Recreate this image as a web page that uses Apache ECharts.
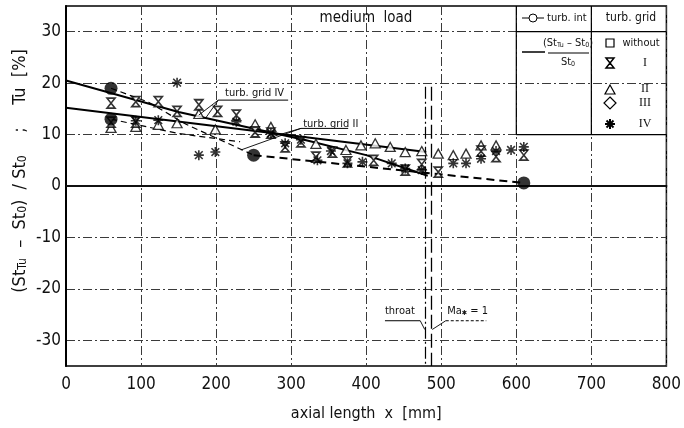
<!DOCTYPE html>
<html><head><meta charset="utf-8">
<script src="https://cdn.jsdelivr.net/npm/echarts@6/dist/echarts.min.js"></script>
<style>html,body{margin:0;padding:0;background:#fff}#c{width:684px;height:428px}</style>
</head><body><div id="c"></div>
<script>
// ---- data ----
const xMin = 0, xMax = 800, xStep = 100;
const yMin = -35, yMax = 35, yStep = 5, yLabelStep = 10;

// solid lines: (St_Tu - St_0)/St_0
const stLineGridIV = [[0,20.5],[150,14.4],[320,8.9],[400,6.0],[482,2.0]];
const stLineGridII = [[0,15.2],[480,6.6]];

// dashed lines: turbulence intensity
const tuDashUpper = [[60,19],[110,16.3],[160,12],[235,7],[250,6]];
const tuDashLower = [[60,13],[150,10.2],[232,8.6]];
const tuDashMain  = [[250,6],[490,2.4],[610,0.6]];
const tuPoints    = [[60,19],[60,13],[250,6],[610,0.6]];

// grid I (hourglass)
const gridI = [[60,16.1],[93,16.4],[123,16.4],[148,14.5],[177,15.8],[202,14.5],[227,13.8],[252,10.5],[273,10.3],[292,7.6],[313,8.6],[333,5.6],[355,6.6],[375,4.7],[410,5.0],[452,3.1],[474,4.2],[496,2.7],[553,6.8],[573,5.7],[610,6.0],[60,12.4],[93,12.4]];
// grid II (triangle)
const gridII = [[60,11.3],[93,11.5],[123,11.9],[148,12.2],[177,14.0],[199,11.0],[252,12.0],[273,11.5],[333,8.2],[373,7.0],[393,7.9],[412,8.3],[432,7.6],[452,6.6],[474,6.8],[496,6.3],[516,6.0],[533,6.3],[553,7.9],[573,7.9]];
// grid IV (asterisk)
const gridIV = [[93,12.7],[123,12.8],[148,20.1],[177,6.0],[199,6.6],[227,12.5],[273,10.2],[292,8.3],[313,9.0],[335,5.0],[353,6.8],[375,4.4],[395,4.7],[434,4.4],[452,3.4],[474,3.1],[516,4.4],[533,4.4],[553,5.3],[573,6.8],[593,7.0],[610,7.6]];

const throatLine = [[479,19.3],[479,-35]];
const maLine = [[487,19.3],[487,-35]];

// ---- styling ----
const FONT = "'Liberation Sans Narrow','DejaVu Sans Condensed','Roboto Condensed','Liberation Sans',sans-serif";
const SERIF = "'Liberation Serif','DejaVu Serif',serif";
const HOURGLASS = 'path://M0,0 L10,0 L5,5 L10,10 L0,10 L5,5 Z';
const ASTER = 'path://M4.2,0 L5.8,0 L5.8,10 L4.2,10 Z M0,4.2 L10,4.2 L10,5.8 L0,5.8 Z M0.6,1.7 L1.7,0.6 L9.4,8.3 L8.3,9.4 Z M8.3,0.6 L9.4,1.7 L1.7,9.4 L0.6,8.3 Z M3,3 L7,3 L7,7 L3,7 Z';
const GL = '#3a3a3a', NONE = 'rgba(0,0,0,0)';

const chart = echarts.init(document.getElementById('c'), null, {renderer:'canvas'});

function lineSeries(data, type, width){
  return {type:'line', data, symbol:'none', silent:true, z:3,
    lineStyle:{color:'#000', width, type}};
}

chart.setOption({
  animation:false,
  backgroundColor:'#fff',
  grid:{left:66, right:12, top:6, bottom:62, show:true, borderColor:'#000', borderWidth:1.5},
  xAxis:{type:'value', min:xMin, max:xMax, interval:xStep,
    axisLine:{show:true, lineStyle:{color:'#000', width:2}}, axisTick:{show:false},
    axisLabel:{color:'#111', fontFamily:FONT, fontSize:17, margin:10},
    splitLine:{show:true, lineStyle:{color:GL, width:1, type:[9,3,2,3]}},
    name:'axial length  x  [mm]', nameLocation:'middle', nameGap:40,
    nameTextStyle:{color:'#111', fontFamily:FONT, fontSize:16}},
  yAxis:{type:'value', min:yMin, max:yMax, interval:yStep,
    axisLine:{show:true, lineStyle:{color:'#000', width:2}}, axisTick:{show:false},
    axisLabel:{color:'#111', fontFamily:FONT, fontSize:17, margin:5,
      formatter:v => (Math.abs(v) % yLabelStep === 0 && Math.abs(v) < yMax) ? String(v) : ''},
    splitLine:{show:true, lineStyle:{color:[NONE, GL], width:1, type:[9,3,2,3]}}},
  series:[
    lineSeries(stLineGridIV,'solid',2),
    lineSeries(stLineGridII,'solid',2),
    lineSeries(tuDashUpper,[6,4],1.2),
    lineSeries(tuDashLower,[6,4],1.2),
    lineSeries(tuDashMain,[8,5],2),
    lineSeries(throatLine,[12,3,2,3],1.2),
    lineSeries(maLine,[14,5],1.3),
    {type:'line', data:[[0,0],[800,0]], symbol:'none', silent:true, z:2, lineStyle:{color:'#222', width:1}},
    {type:'scatter', data:gridII, symbol:'triangle', symbolSize:[10,9], z:5,
      itemStyle:{color:'#fff', borderColor:'#000', borderWidth:1.3}},
    {type:'scatter', data:gridI, symbol:HOURGLASS, symbolSize:[8,10], z:6,
      itemStyle:{color:'#fff', borderColor:'#000', borderWidth:1.6}},
    {type:'scatter', data:gridIV, symbol:ASTER, symbolSize:[10,10], z:7,
      itemStyle:{color:'#000'}},
    {type:'scatter', data:tuPoints, symbol:'circle', symbolSize:13, z:8,
      itemStyle:{color:'#000'}}
  ]
});

// ---- annotations (graphics) ----
const P = (x,y) => chart.convertToPixel({gridIndex:0},[x,y]);
const L = (x1,y1,x2,y2,w,dash) => ({type:'line', shape:{x1,y1,x2,y2}, style:{stroke:'#000', lineWidth:w||1, lineDash:dash||null}, z:20});
const T = (x,y,text,opt) => ({type:'text', x, y, z:21, style:Object.assign({text, fill:'#111', font:'13px '+FONT, align:'center', verticalAlign:'middle'}, opt||{})});
const g = [];

// y axis title (rotated, three parts)
const yt = (y, text) => ({type:'text', x:20, y, rotation:Math.PI/2, z:21, style:{
  text, fill:'#111', font:'18px '+FONT, align:'center', verticalAlign:'middle',
  rich:{s:{fontSize:12, fontFamily:FONT, verticalAlign:'bottom', lineHeight:10, fill:'#111'}}
}});
g.push(yt(224,'(St{s|Tu}  –  St{s|0})  / St{s|0}'));
g.push(yt(130,';'));
g.push(yt(77,'Tu  [%]'));

// medium load
g.push(T(366,18,'medium  load',{font:'15px '+FONT}));

// legend table
const a = P(600,35), b = P(700,10), c = P(800,30);
g.push(L(a[0],a[1],a[0],b[1],1.2));
g.push(L(b[0],a[1],b[0],b[1],1.2));
g.push(L(a[0],c[1],c[0],c[1],1.2));
g.push(L(a[0],b[1],c[0],b[1],1.2));
// row 1
g.push(L(522,18,529,18,1)); g.push(L(537,18,544,18,1));
g.push({type:'circle', shape:{cx:533, cy:18, r:4}, style:{fill:'#fff', stroke:'#000', lineWidth:1}, z:21});
g.push(T(547,18,'turb. int',{align:'left', font:'11px '+FONT}));
g.push(T(631,18,'turb. grid',{font:'12px '+FONT}));
// row 2 (St fraction)
g.push(L(522,52,545,52,1.5));
const sub = {s:{fontSize:7, fontFamily:FONT, verticalAlign:'bottom', lineHeight:6}};
g.push(T(568,43,'(St{s|Tu} – St{s|0})',{font:'11px '+FONT, rich:sub}));
g.push(L(548,53,589,53,1.2));
g.push(T(568,62,'St{s|0}',{font:'11px '+FONT, rich:sub}));
// symbol column
g.push({type:'rect', shape:{x:606, y:39, width:8, height:8}, style:{fill:'#fff', stroke:'#000', lineWidth:1.2}, z:21});
g.push({type:'polygon', shape:{points:[[606,58],[614,58],[610,63],[614,68],[606,68],[610,63]]}, style:{fill:'#fff', stroke:'#000', lineWidth:1.5}, z:21});
g.push({type:'polygon', shape:{points:[[610,85],[615,94],[605,94]]}, style:{fill:'#fff', stroke:'#000', lineWidth:1.2}, z:21});
g.push({type:'polygon', shape:{points:[[610,97],[616,103],[610,109],[604,103]]}, style:{fill:'#fff', stroke:'#000', lineWidth:1.2}, z:21});
g.push(L(610,119,610,129,2)); g.push(L(605,124,615,124,2));
g.push(L(606.5,120.5,613.5,127.5,2)); g.push(L(613.5,120.5,606.5,127.5,2));
g.push(T(641,43,'without',{font:'11px '+FONT}));
g.push(T(645,63,'I',{font:'12px '+SERIF}));
g.push(T(645,89,'II',{font:'12px '+SERIF}));
g.push(T(645,103,'III',{font:'12px '+SERIF}));
g.push(T(645,124,'IV',{font:'12px '+SERIF}));

// turb. grid IV label
let p = P(212,18.1); g.push(T(p[0],p[1],'turb. grid IV',{align:'left', font:'11px '+FONT}));
let u1 = P(203,16.7), u2 = P(296,16.7); g.push(L(u1[0],u1[1],u2[0],u2[1],1));
let q1 = P(177,13.8), q2 = P(186,13.2);
g.push(L(u1[0],u1[1],q1[0],q1[1],0.9)); g.push(L(u1[0],u1[1],q2[0],q2[1],0.9));
// turb. grid II label
p = P(316,11.9); g.push(T(p[0],p[1]-1,'turb. grid II',{align:'left', font:'11px '+FONT}));
u1 = P(313,11.2); u2 = P(376,11.2); g.push(L(u1[0],u1[1],u2[0],u2[1],1));
q1 = P(273,9.5); q2 = P(233,7.0);
g.push(L(u1[0],u1[1],q1[0],q1[1],0.9)); g.push(L(u1[0],u1[1],q2[0],q2[1],0.9));
// throat
p = P(425,-24.3); g.push(T(p[0],p[1],'throat',{align:'left', font:'11px '+FONT}));
u1 = P(425,-26.2); u2 = P(472,-26.2); g.push(L(u1[0],u1[1],u2[0],u2[1],1));
q1 = P(478,-27.9); g.push(L(u2[0],u2[1],q1[0],q1[1],0.9));
// Ma* = 1
p = P(508,-24.3); g.push(T(p[0],p[1],'Ma{s|✱} = 1',{align:'left', font:'11px '+FONT, rich:sub}));
u1 = P(506,-26.2); u2 = P(560,-26.2); g.push(L(u1[0],u1[1],u2[0],u2[1],1,[3,2]));
q1 = P(488,-27.9); g.push(L(u1[0],u1[1],q1[0],q1[1],0.9));

chart.setOption({graphic:g});
</script></body></html>
